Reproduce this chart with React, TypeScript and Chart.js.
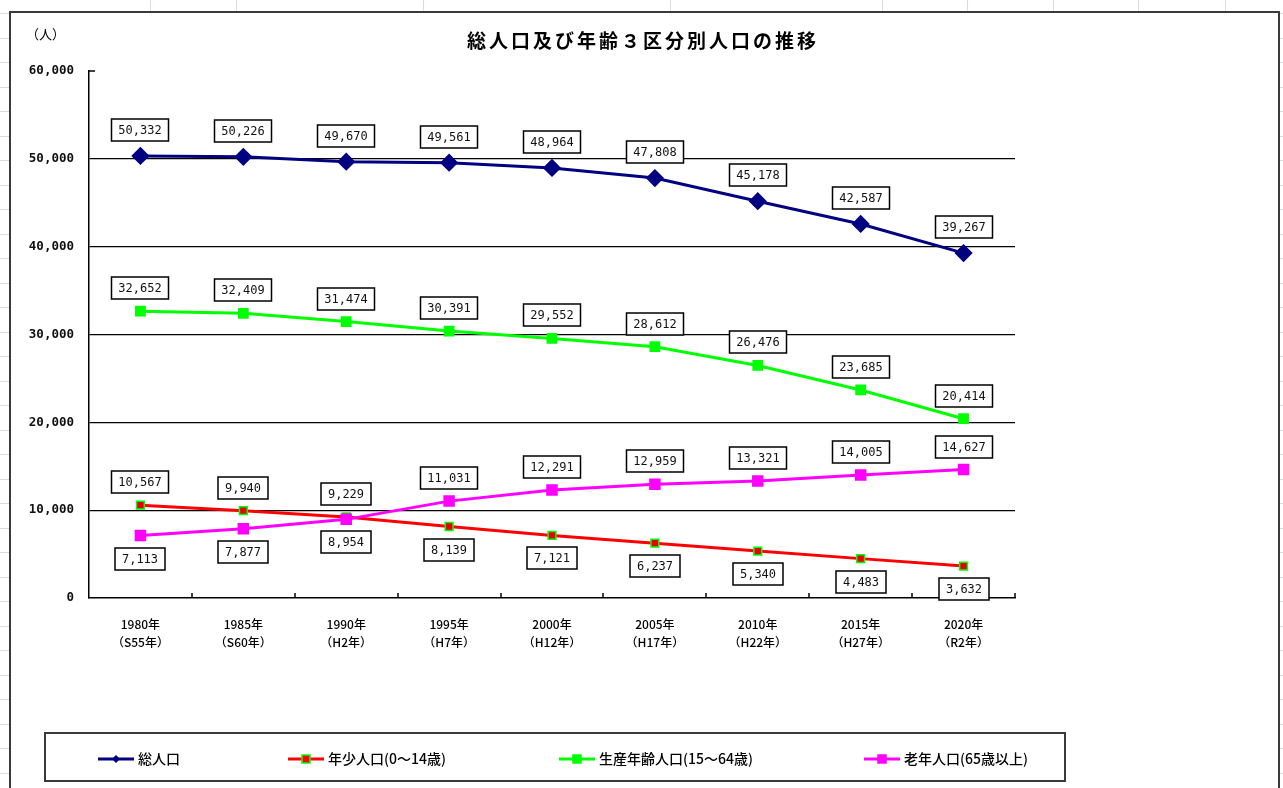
import React, { useEffect, useRef } from 'react';
import { Chart, registerables } from 'chart.js';

Chart.register(...registerables);

// ---- data ----
const yearLabels = ['1980年', '1985年', '1990年', '1995年', '2000年', '2005年', '2010年', '2015年', '2020年'];
const eraLabels = ['（S55年）', '（S60年）', '（H2年）', '（H7年）', '（H12年）', '（H17年）', '（H22年）', '（H27年）', '（R2年）'];
const totalPop = [50332, 50226, 49670, 49561, 48964, 47808, 45178, 42587, 39267];
const youngPop = [10567, 9940, 9229, 8139, 7121, 6237, 5340, 4483, 3632];
const workingPop = [32652, 32409, 31474, 30391, 29552, 28612, 26476, 23685, 20414];
const elderlyPop = [7113, 7877, 8954, 11031, 12291, 12959, 13321, 14005, 14627];
const seriesNames = ['総人口', '年少人口(0～14歳)', '生産年齢人口(15～64歳)', '老年人口(65歳以上)'];
const yMin = 0;
const yMax = 60000;
const yStep = 10000;
const chartTitle = '総人口及び年齢３区分別人口の推移';
const unitLabel = '（人）';

// label placement (style, not data)
const youngLabelBelow = [false, false, false, true, true, true, true, true, true];
const elderlyLabelBelow = [true, true, true, false, false, false, false, false, false];

const NAVY = '#000080';
const RED = '#FF0000';
const GREEN = '#00FF00';
const MAGENTA = '#FF00FF';

const fmt = (v: number) => v.toLocaleString('en-US');

const backgroundPlugin = {
  id: 'sheetBackground',
  beforeDraw(chart: any) {
    const { ctx, width, height } = chart;
    ctx.save();
    ctx.fillStyle = '#ffffff';
    ctx.fillRect(0, 0, width, height);
    // spreadsheet grid
    ctx.strokeStyle = '#D5DDEA';
    ctx.lineWidth = 1;
    const cols = [150, 236, 423, 670, 882, 967, 1053, 1138, 1225];
    cols.forEach((x) => {
      ctx.beginPath();
      ctx.moveTo(x + 0.5, 0);
      ctx.lineTo(x + 0.5, height);
      ctx.stroke();
    });
    for (let y = 13; y < height; y += 24.5) {
      ctx.beginPath();
      ctx.moveTo(0, Math.round(y) + 0.5);
      ctx.lineTo(width, Math.round(y) + 0.5);
      ctx.stroke();
    }
    // chart frame
    ctx.fillStyle = '#ffffff';
    ctx.fillRect(9, 11, 1270, height);
    ctx.strokeStyle = '#3a3a3a';
    ctx.lineWidth = 2;
    ctx.beginPath();
    ctx.moveTo(10, height + 5);
    ctx.lineTo(10, 12);
    ctx.lineTo(1279, 12);
    ctx.lineTo(1279, height + 5);
    ctx.stroke();
    // title
    ctx.fillStyle = '#000';
    ctx.font = 'bold 19px "Noto Sans CJK JP"';
    (ctx as any).letterSpacing = '3px';
    ctx.textAlign = 'center';
    ctx.textBaseline = 'middle';
    ctx.fillText(chartTitle, 643, 41);
    (ctx as any).letterSpacing = '0px';
    // unit
    ctx.font = '13px "Noto Sans CJK JP"';
    ctx.textAlign = 'left';
    ctx.fillText(unitLabel, 26, 34);
    ctx.restore();
  },
};

const axisTicksPlugin = {
  id: 'insideTicks',
  afterDatasetsDraw(chart: any) {
    const { ctx, scales } = chart;
    const xs = scales.x;
    const ys = scales.y;
    ctx.save();
    ctx.strokeStyle = '#000';
    ctx.lineWidth = 1.5;
    const n = yearLabels.length;
    for (let i = 1; i <= n; i++) {
      const x = Math.round((xs.getPixelForValue(i - 1) + (i < n ? xs.getPixelForValue(i) : 2 * xs.getPixelForValue(i - 1) - xs.getPixelForValue(i - 2))) / 2);
      ctx.beginPath();
      ctx.moveTo(x, ys.bottom);
      ctx.lineTo(x, ys.bottom - 5);
      ctx.stroke();
    }
    const yt = Math.round(ys.getPixelForValue(yMax));
    ctx.beginPath();
    ctx.moveTo(xs.left, yt);
    ctx.lineTo(xs.left + 6, yt);
    ctx.stroke();
    ctx.restore();
  },
};

const dataLabelPlugin = {
  id: 'boxedLabels',
  afterDatasetsDraw(chart: any) {
    const { ctx } = chart;
    ctx.save();
    ctx.font = '12px "DejaVu Sans Mono"';
    ctx.textAlign = 'center';
    ctx.textBaseline = 'middle';
    chart.data.datasets.forEach((ds: any, di: number) => {
      const meta = chart.getDatasetMeta(di);
      meta.data.forEach((pt: any, i: number) => {
        const txt = fmt(ds.data[i]);
        const below = ds.labelBelow ? ds.labelBelow[i] : false;
        const off = ds.labelOffset || 23;
        const cy = Math.round(below ? pt.y + off : pt.y - off);
        const cx = Math.round(pt.x);
        const w = Math.round(ctx.measureText(txt).width + 14);
        const h = 22;
        ctx.fillStyle = '#fff';
        ctx.fillRect(cx - w / 2, cy - h / 2, w, h);
        ctx.strokeStyle = '#000';
        ctx.lineWidth = 1.5;
        ctx.strokeRect(cx - w / 2, cy - h / 2, w, h);
        ctx.fillStyle = '#111';
        ctx.fillText(txt, cx, cy + 1);
      });
    });
    ctx.restore();
  },
};

const legendPlugin = {
  id: 'boxLegend',
  afterDraw(chart: any) {
    const { ctx } = chart;
    ctx.save();
    ctx.strokeStyle = '#3a3a3a';
    ctx.lineWidth = 2;
    ctx.fillStyle = '#fff';
    ctx.fillRect(45, 733, 1020, 48);
    ctx.strokeRect(45, 733, 1020, 48);
    const y = 759;
    const items = [
      { x: 98, color: NAVY, marker: 'diamond', fill: NAVY, border: NAVY },
      { x: 288, color: RED, marker: 'square', fill: RED, border: GREEN },
      { x: 559, color: GREEN, marker: 'square', fill: GREEN, border: GREEN },
      { x: 864, color: MAGENTA, marker: 'square', fill: MAGENTA, border: MAGENTA },
    ];
    items.forEach((it, k) => {
      ctx.strokeStyle = it.color;
      ctx.lineWidth = 3;
      ctx.beginPath();
      ctx.moveTo(it.x, y);
      ctx.lineTo(it.x + 36, y);
      ctx.stroke();
      const mx = it.x + 18;
      ctx.fillStyle = it.fill;
      if (it.marker === 'diamond') {
        ctx.beginPath();
        ctx.moveTo(mx, y - 4);
        ctx.lineTo(mx + 4, y);
        ctx.lineTo(mx, y + 4);
        ctx.lineTo(mx - 4, y);
        ctx.closePath();
        ctx.fill();
      } else {
        ctx.fillRect(mx - 4, y - 4, 8, 8);
        ctx.strokeStyle = it.border;
        ctx.lineWidth = 1.5;
        ctx.strokeRect(mx - 4, y - 4, 8, 8);
      }
      ctx.fillStyle = '#000';
      ctx.font = '500 14px "Noto Sans CJK JP"';
      ctx.textAlign = 'left';
      ctx.textBaseline = 'middle';
      ctx.fillText(seriesNames[k], it.x + 40, y);
    });
    ctx.restore();
  },
};

export default function App() {
  const canvasRef = useRef<HTMLCanvasElement | null>(null);

  useEffect(() => {
    if (!canvasRef.current) return;
    const labels = yearLabels.map((y, i) => [y, eraLabels[i]]);
    const chart = new Chart(canvasRef.current, {
      type: 'line',
      data: {
        labels,
        datasets: [
          {
            label: seriesNames[0],
            data: totalPop,
            borderColor: NAVY,
            backgroundColor: NAVY,
            borderWidth: 3,
            pointStyle: 'rectRot',
            pointRadius: 7,
            pointBackgroundColor: NAVY,
            pointBorderColor: NAVY,
            order: 3,
            labelOffset: 26,
          } as any,
          {
            label: seriesNames[1],
            data: youngPop,
            borderColor: RED,
            backgroundColor: RED,
            borderWidth: 3,
            pointStyle: 'rect',
            pointRadius: 5.5,
            pointBackgroundColor: '#E80000',
            pointBorderColor: GREEN,
            pointBorderWidth: 1.5,
            order: 2,
            labelBelow: youngLabelBelow,
          } as any,
          {
            label: seriesNames[2],
            data: workingPop,
            borderColor: GREEN,
            backgroundColor: GREEN,
            borderWidth: 3,
            pointStyle: 'rect',
            pointRadius: 5.5,
            pointBackgroundColor: GREEN,
            pointBorderColor: GREEN,
            order: 1,
          } as any,
          {
            label: seriesNames[3],
            data: elderlyPop,
            borderColor: MAGENTA,
            backgroundColor: MAGENTA,
            borderWidth: 3,
            pointStyle: 'rect',
            pointRadius: 6,
            pointBackgroundColor: MAGENTA,
            pointBorderColor: MAGENTA,
            order: 0,
            labelBelow: elderlyLabelBelow,
          } as any,
        ],
      },
      options: {
        responsive: false,
        animation: false,
        devicePixelRatio: 1,
        events: [],
        layout: { padding: { left: 0, top: 71, right: 268, bottom: 0 } },
        plugins: {
          legend: { display: false },
          title: { display: false },
          tooltip: { enabled: false },
        },
        scales: {
          x: {
            type: 'category',
            offset: true,
            afterFit: (s: any) => {
              s.height = 190;
            },
            grid: { display: true, drawOnChartArea: false, drawTicks: false, offset: true, color: 'rgba(0,0,0,0)' },
            border: { display: true, color: '#000', width: 1.5 },
            ticks: {
              color: '#000',
              padding: 17,
              maxRotation: 0,
              autoSkip: false,
              font: { family: '"Noto Sans CJK JP"', size: 12, weight: '500', lineHeight: 1.5 },
            },
          },
          y: {
            min: yMin,
            max: yMax,
            afterFit: (s: any) => {
              s.width = 89;
            },
            grid: {
              drawTicks: false,
              color: (c: any) => (c.tick && c.tick.value > yMin && c.tick.value < yMax ? '#000' : 'rgba(0,0,0,0)'),
              lineWidth: 1.2,
            },
            border: { display: true, color: '#000', width: 1.5 },
            ticks: {
              stepSize: yStep,
              padding: 15,
              color: '#111',
              font: { family: '"DejaVu Sans Mono"', size: 12.5, weight: 'bold' },
              callback: (v: any) => fmt(Number(v)),
            },
          },
        },
      },
      plugins: [backgroundPlugin, axisTicksPlugin, dataLabelPlugin, legendPlugin],
    });
    return () => chart.destroy();
  }, []);

  return (
    <div style={{ position: 'fixed', left: 0, top: 0, width: 1283, height: 788, background: '#fff' }}>
      <canvas ref={canvasRef} width={1283} height={788} style={{ display: 'block', width: 1283, height: 788 }} />
    </div>
  );
}
